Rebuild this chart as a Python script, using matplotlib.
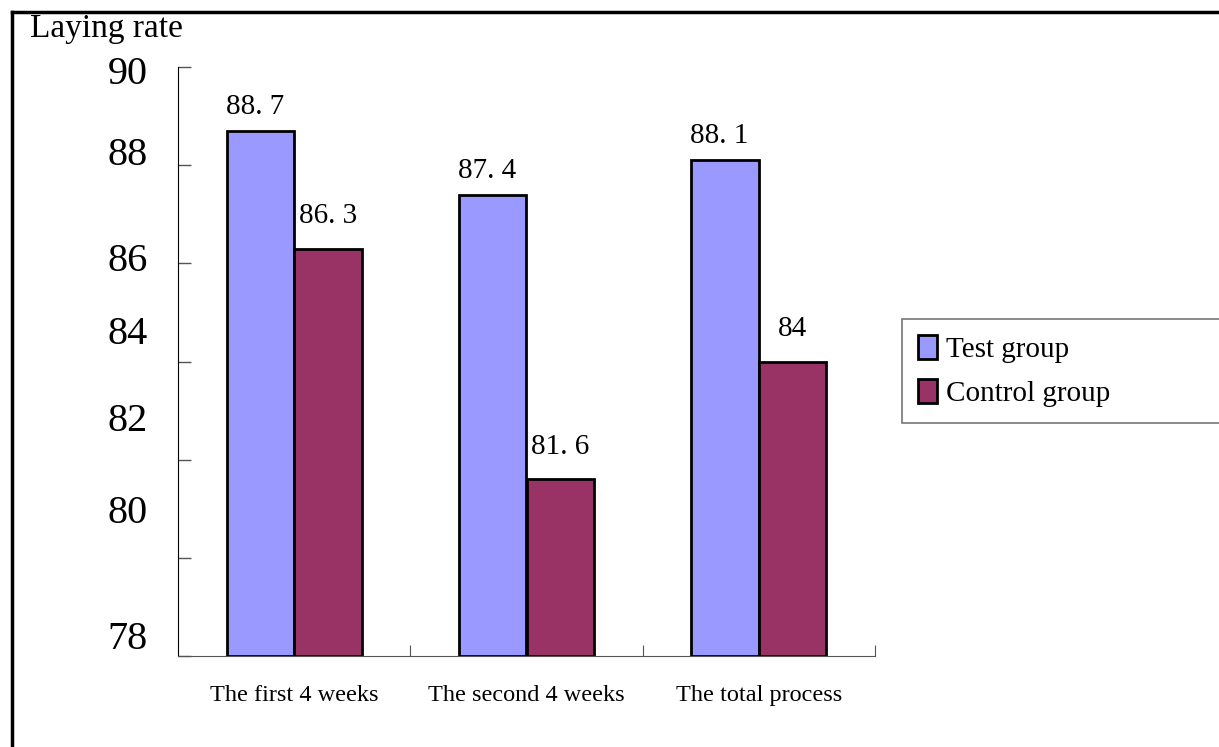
import numpy as np
import matplotlib.pyplot as plt
from matplotlib.lines import Line2D

plt.rcParams['font.family'] = ['Liberation Serif', 'DejaVu Serif']

categories = ["The first 4 weeks", "The second 4 weeks", "The total process"]
test_group = [88.7, 87.4, 88.1]
control_group = [86.3, 81.6, 84.0]
y_ticks = [78, 80, 82, 84, 86, 88, 90]

# where the tick numbers sit along the axis
ylabel_pos = [78.33, 80.91, 82.77, 84.54, 86.03, 88.2, 89.84]


def fmt(v):
    if v % 1 == 0:
        return "%g" % v
    return ("%.1f" % v).replace(".", ". ")


fig = plt.figure(figsize=(12.19, 7.47), dpi=100)
ax = fig.add_axes([178/1219, 1-656/747, (875-178)/1219, (656-67)/747])

x = np.arange(len(categories)) + 0.5
w = 0.29
b1 = ax.bar(x - w/2, np.array(test_group) - 78, w, bottom=78, color="#9999FF",
            edgecolor="k", linewidth=2, label="Test group")
b2 = ax.bar(x + w/2, np.array(control_group) - 78, w, bottom=78, color="#993366",
            edgecolor="k", linewidth=2, label="Control group")

for xi, v in zip(x - w/2, test_group):
    ax.annotate(fmt(v), (xi, v), xytext=(-4, 8), textcoords="offset points",
                ha="center", va="bottom", fontsize=21)
for xi, v in zip(x + w/2, control_group):
    ax.annotate(fmt(v), (xi, v), xytext=(0, 14), textcoords="offset points",
                ha="center", va="bottom", fontsize=21)

ax.set_xlim(0, 3)
ax.set_ylim(78, 90)
ax.set_yticks(y_ticks)
ax.set_yticklabels([])
ax.tick_params(axis="y", direction="in", length=9, width=1, color="#555555")
for t, p in zip(y_ticks, ylabel_pos):
    ax.text(-0.13, p, str(t), ha="right", va="center", fontsize=29)

ax.set_xticks([1, 2, 3])
ax.set_xticklabels([])
ax.tick_params(axis="x", which="major", direction="in", length=8, color="#555555")
ax.set_xticks(x, minor=True)
ax.set_xticklabels(categories, minor=True, fontsize=17.5)
ax.tick_params(axis="x", which="minor", length=0, pad=21)

for s in ["top", "right"]:
    ax.spines[s].set_visible(False)
ax.spines["left"].set_color("k")
ax.spines["bottom"].set_color("#555555")

fig.text(30/1219, 1-29/747, "Laying rate", fontsize=24, va="center", ha="left")

leg = fig.legend(handles=[b1, b2], loc="upper left", mode="expand",
                 bbox_to_anchor=(902/1219, 1-435/747, 0.5, 116/747), fontsize=21,
                 frameon=True, fancybox=False, edgecolor="#555555",
                 handlelength=0.65, handleheight=0.9, handletextpad=0.3,
                 labelspacing=0.55, borderpad=0.55, borderaxespad=0)
leg.get_frame().set_linewidth(1.2)

# outer chart frame
fig.add_artist(Line2D([12/1219, 12/1219], [0, 1-12/747], color="k", lw=2.5))
fig.add_artist(Line2D([12/1219, 1], [1-12/747, 1-12/747], color="k", lw=2.5))

fig.savefig("out.png", dpi=100)
